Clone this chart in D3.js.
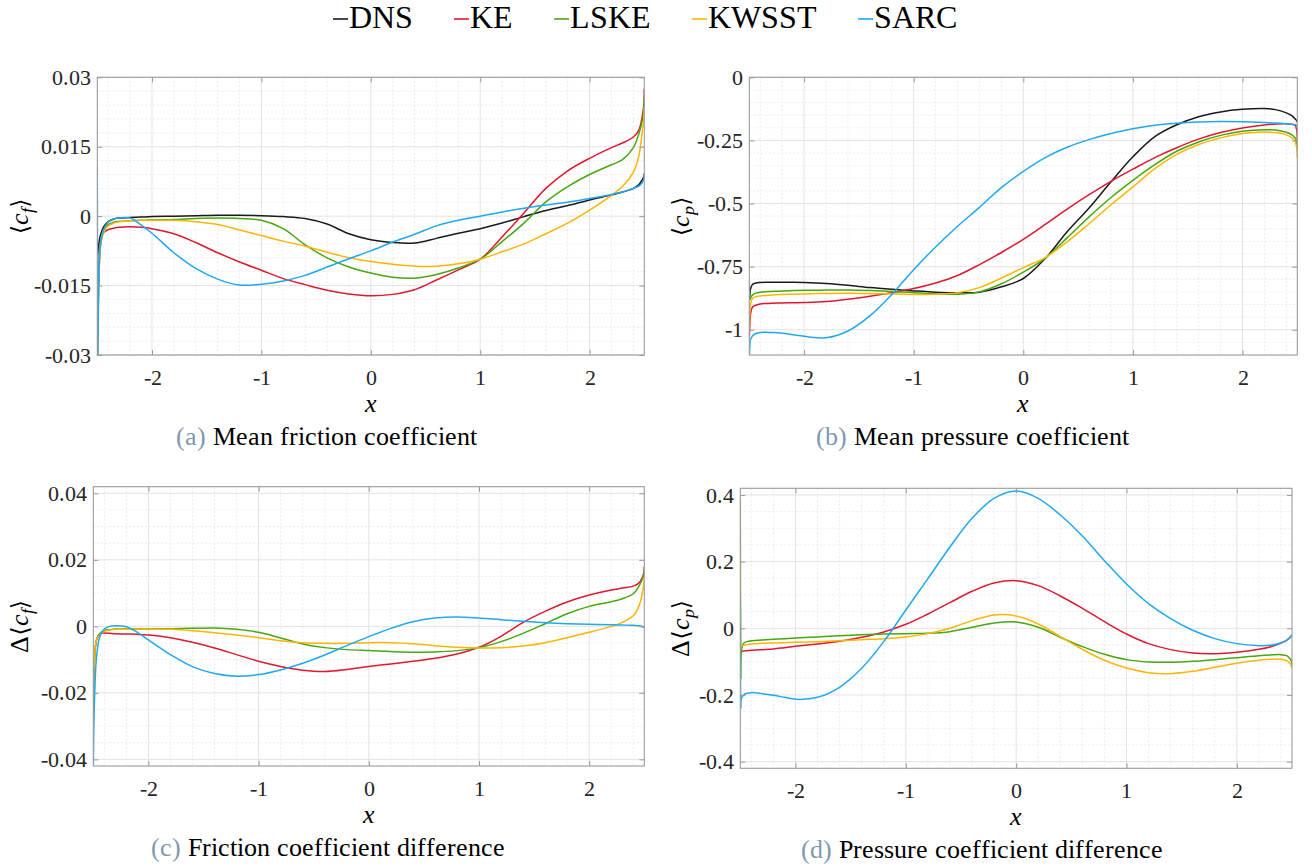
<!DOCTYPE html>
<html>
<head>
<meta charset="utf-8">
<script src="https://cdn.jsdelivr.net/npm/d3@7"></script>
<style>
  @font-face {
    font-family: "FigSerif";
    font-style: normal;
    font-weight: 400;
    src: local("Liberation Serif"), local("LiberationSerif"), local("LiberationSerif-Regular"),
         local("DejaVu Serif"), local("DejaVuSerif"), local("Noto Serif"), local("NotoSerif-Regular");
  }
  @font-face {
    font-family: "FigSerif";
    font-style: italic;
    font-weight: 400;
    src: local("Liberation Serif Italic"), local("LiberationSerif-Italic"),
         local("DejaVu Serif Italic"), local("DejaVuSerif-Italic"), local("Noto Serif Italic"), local("NotoSerif-Italic");
  }
  html, body { margin: 0; padding: 0; background: #fff; }
  svg { display: block; }
</style>
</head>
<body>
<svg id="fig" width="1312" height="867"></svg>
<script>
// Shared abscissa of all sampled profiles
const xs = [-2.5, -2.495, -2.49, -2.47, -2.44, -2.4, -2.35, -2.3, -2.2, -2.1, -2.0,
  -1.8, -1.6, -1.4, -1.2, -1.0, -0.8, -0.6, -0.4, -0.2, 0, 0.2, 0.4, 0.6, 0.8, 1.0,
  1.2, 1.4, 1.6, 1.8, 2.0, 2.2, 2.3, 2.4, 2.45, 2.48, 2.495, 2.5];

// (a) mean friction coefficient <c_f>
const cfDNS = [-0.0085, -0.0078, -0.0065, -0.004, -0.0022, -0.0012, -0.0006, -0.0004, -0.0003, -0.0002, -0.0001,
  0.0, 0.0001, 0.0002, 0.0002, 0.0001, -0.0001, -0.0005, -0.0017, -0.0038, -0.0051, -0.0057, -0.0058, -0.0048, -0.0037, -0.0027,
  -0.0015, -0.0001, 0.0012, 0.0023, 0.0035, 0.0046, 0.0052, 0.006, 0.0068, 0.0078, 0.0085, 0.0092];
const cfKE = [-0.031, -0.022, -0.015, -0.0055, -0.0035, -0.0029, -0.0026, -0.0024, -0.0023, -0.0024, -0.0027,
  -0.0038, -0.0057, -0.0079, -0.0099, -0.0117, -0.0135, -0.0148, -0.016, -0.0168, -0.0172, -0.0169, -0.0159, -0.0138, -0.0116, -0.0093,
  -0.0045, 0.0007, 0.006, 0.0098, 0.0125, 0.0148, 0.0158, 0.0171, 0.0186, 0.0214, 0.024, 0.0275];
const cfLSKE = [-0.031, -0.025, -0.018, -0.006, -0.0028, -0.0018, -0.0013, -0.0011, -0.001, -0.0009, -0.0008,
  -0.0007, -0.0005, -0.0004, -0.0005, -0.0009, -0.0027, -0.0062, -0.009, -0.011, -0.0123, -0.0132, -0.0134, -0.0126, -0.0112, -0.0093,
  -0.0055, -0.0015, 0.0031, 0.0064, 0.009, 0.0111, 0.0122, 0.0148, 0.0178, 0.0205, 0.023, 0.0258];
const cfKWSST = [-0.031, -0.025, -0.018, -0.0065, -0.0034, -0.0021, -0.0015, -0.0012, -0.001, -0.0009, -0.0009,
  -0.0009, -0.0012, -0.0018, -0.003, -0.0042, -0.0054, -0.0065, -0.0078, -0.009, -0.0098, -0.0104, -0.0108, -0.0108, -0.0103, -0.0093,
  -0.0077, -0.006, -0.0038, -0.0015, 0.0013, 0.0045, 0.0064, 0.0095, 0.013, 0.018, 0.021, 0.0236];
const cfSARC = [0.0105, -0.031, -0.02, -0.006, -0.0028, -0.0012, -0.0006, -0.0004, -0.0004, -0.0019, -0.0037,
  -0.0079, -0.0113, -0.0136, -0.0149, -0.0147, -0.014, -0.0128, -0.011, -0.0092, -0.0075, -0.0056, -0.0039, -0.0021, -0.0009, 0.0,
  0.0009, 0.0017, 0.0024, 0.003, 0.0038, 0.0047, 0.0052, 0.006, 0.0065, 0.0072, 0.008, 0.0092];

// (b) mean pressure coefficient <c_p>
const cpDNS = [-0.88, -0.86, -0.84, -0.82, -0.815, -0.813, -0.812, -0.812, -0.812, -0.812, -0.813,
  -0.817, -0.824, -0.833, -0.84, -0.846, -0.851, -0.853, -0.851, -0.83, -0.797, -0.718, -0.612, -0.518, -0.414, -0.315,
  -0.235, -0.188, -0.156, -0.137, -0.127, -0.124, -0.128, -0.141, -0.152, -0.165, -0.172, -0.178];
const cpKE = [-1.03, -0.98, -0.94, -0.91, -0.903, -0.898, -0.896, -0.895, -0.894, -0.893, -0.892,
  -0.888, -0.879, -0.867, -0.853, -0.837, -0.815, -0.785, -0.742, -0.694, -0.642, -0.583, -0.522, -0.465, -0.412, -0.364,
  -0.318, -0.279, -0.245, -0.219, -0.201, -0.189, -0.185, -0.184, -0.186, -0.19, -0.21, -0.247];
const cpLSKE = [-0.806, -0.88, -0.875, -0.862, -0.855, -0.851, -0.849, -0.848, -0.846, -0.845, -0.844,
  -0.843, -0.843, -0.845, -0.848, -0.853, -0.857, -0.859, -0.85, -0.818, -0.772, -0.716, -0.636, -0.553, -0.476, -0.408,
  -0.346, -0.293, -0.256, -0.23, -0.214, -0.208, -0.209, -0.218, -0.228, -0.24, -0.26, -0.29];
const cpKWSST = [-1.0, -0.93, -0.9, -0.875, -0.869, -0.866, -0.864, -0.862, -0.86, -0.859, -0.858,
  -0.856, -0.855, -0.856, -0.858, -0.86, -0.859, -0.853, -0.833, -0.795, -0.754, -0.714, -0.652, -0.58, -0.505, -0.434,
  -0.362, -0.305, -0.266, -0.24, -0.223, -0.217, -0.219, -0.228, -0.24, -0.255, -0.28, -0.32];
const cpSARC = [-1.12, -1.06, -1.04, -1.024, -1.015, -1.011, -1.01, -1.011, -1.014, -1.02, -1.026,
  -1.032, -1.005, -0.945, -0.86, -0.762, -0.672, -0.59, -0.515, -0.437, -0.373, -0.318, -0.277, -0.247, -0.223, -0.204,
  -0.19, -0.182, -0.177, -0.175, -0.176, -0.179, -0.181, -0.184, -0.186, -0.188, -0.19, -0.195];

// (c) friction coefficient difference to DNS
const dcfKE = [-0.015, -0.012, -0.009, -0.004, -0.0022, -0.002, -0.0021, -0.0022, -0.0023, -0.0024, -0.0026,
  -0.0034, -0.0048, -0.0065, -0.0085, -0.0105, -0.0121, -0.0132, -0.0136, -0.013, -0.0121, -0.0113, -0.0105, -0.0096, -0.0083, -0.0063,
  -0.003, 0.0012, 0.0045, 0.0073, 0.0094, 0.0109, 0.0115, 0.0121, 0.013, 0.0145, 0.016, 0.018];
const dcfLSKE = [-0.029, -0.02, -0.012, -0.004, -0.0022, -0.0013, -0.001, -0.0008, -0.0007, -0.0007, -0.0007,
  -0.0007, -0.0006, -0.0005, -0.0009, -0.0018, -0.0035, -0.0053, -0.0064, -0.007, -0.0073, -0.0076, -0.0078, -0.0077, -0.0073, -0.0064,
  -0.0046, -0.0021, 0.0008, 0.0038, 0.006, 0.0074, 0.0083, 0.0098, 0.012, 0.014, 0.0155, 0.0165];
const dcfKWSST = [-0.02, -0.015, -0.01, -0.004, -0.0025, -0.0015, -0.0011, -0.0009, -0.0008, -0.0008, -0.0008,
  -0.0009, -0.0013, -0.0019, -0.0026, -0.0034, -0.0043, -0.0049, -0.0051, -0.0051, -0.0049, -0.0049, -0.0052, -0.0058, -0.0063, -0.0065,
  -0.0064, -0.0059, -0.0049, -0.0034, -0.0018, 0.0, 0.0012, 0.0032, 0.006, 0.0095, 0.0125, 0.015];
const dcfSARC = [-0.0425, -0.03, -0.023, -0.009, -0.003, -0.0008, 0.0, 0.0002, -0.0001, -0.0018, -0.0041,
  -0.0085, -0.0121, -0.0142, -0.015, -0.0145, -0.0131, -0.0111, -0.0086, -0.0058, -0.0031, -0.0006, 0.0014, 0.0025, 0.0028, 0.0025,
  0.002, 0.0015, 0.0011, 0.0008, 0.0006, 0.0005, 0.0004, 0.0003, 0.0002, 0.0, -0.0003, -0.0006];

// (d) pressure coefficient difference to DNS
const dcpKE = [-0.08, -0.072, -0.07, -0.068, -0.067, -0.066, -0.065, -0.064, -0.062, -0.058, -0.054,
  -0.047, -0.039, -0.027, -0.011, 0.012, 0.043, 0.077, 0.111, 0.136, 0.143, 0.128, 0.097, 0.06, 0.02, -0.017,
  -0.046, -0.064, -0.074, -0.076, -0.072, -0.063, -0.056, -0.044, -0.036, -0.028, -0.022, -0.019];
const dcpLSKE = [0.39, -0.15, -0.07, -0.045, -0.04, -0.037, -0.036, -0.035, -0.033, -0.031, -0.029,
  -0.026, -0.022, -0.019, -0.017, -0.016, -0.015, -0.01, 0.003, 0.016, 0.019, 0.003, -0.027, -0.055, -0.078, -0.094,
  -0.101, -0.102, -0.099, -0.094, -0.088, -0.082, -0.08, -0.079, -0.082, -0.09, -0.1, -0.109];
const dcpKWSST = [0.23, -0.06, -0.055, -0.051, -0.049, -0.047, -0.046, -0.045, -0.044, -0.043, -0.042,
  -0.04, -0.037, -0.034, -0.031, -0.026, -0.016, 0.0, 0.023, 0.04, 0.037, 0.013, -0.025, -0.063, -0.096, -0.119,
  -0.133, -0.136, -0.129, -0.117, -0.105, -0.096, -0.093, -0.093, -0.097, -0.105, -0.113, -0.119];
const dcpSARC = [0.08, -0.24, -0.21, -0.2, -0.195, -0.193, -0.194, -0.196, -0.201, -0.207, -0.213,
  -0.207, -0.177, -0.12, -0.04, 0.055, 0.149, 0.244, 0.33, 0.39, 0.412, 0.39, 0.34, 0.277, 0.203, 0.133,
  0.074, 0.029, -0.006, -0.031, -0.046, -0.052, -0.051, -0.044, -0.036, -0.028, -0.022, -0.019];

// Legend entries and line colours
const modelNames = ["DNS", "KE", "LSKE", "KWSST", "SARC"];
const modelColors = ["#1a1a1a", "#e0182d", "#46a80e", "#ffb406", "#1fa8f2"];

// Tick values and labels
const xTicks = [-2, -1, 0, 1, 2];
const xTickLabels = ["-2", "-1", "0", "1", "2"];
const cfTicks = [-0.03, -0.015, 0, 0.015, 0.03];
const cfTickLabels = ["-0.03", "-0.015", "0", "0.015", "0.03"];
const cpTicks = [-1, -0.75, -0.5, -0.25, 0];
const cpTickLabels = ["-1", "-0.75", "-0.5", "-0.25", "0"];
const dcfTicks = [-0.04, -0.02, 0, 0.02, 0.04];
const dcfTickLabels = ["-0.04", "-0.02", "0", "0.02", "0.04"];
const dcpTicks = [-0.4, -0.2, 0, 0.2, 0.4];
const dcpTickLabels = ["-0.4", "-0.2", "0", "0.2", "0.4"];

const SERIF = "FigSerif, 'Liberation Serif', 'DejaVu Serif', 'Noto Serif', serif";
const svg = d3.select("#fig");

// Font size that gives a string a wanted rendered width in the serif face
function fitSize(str, width) {
  const t = svg.append("text").attr("font-family", SERIF).attr("font-size", 100).text(str);
  const w = t.node().getComputedTextLength();
  t.remove();
  return 100 * width / w;
}

function draw() {
  svg.selectAll("*").remove();
  const legendSize = Math.min(33, fitSize("DNSKELSKEKWSSTSARC", 383));
  const tickSize = Math.min(22, fitSize("0.015", 50));
  const capSize = Math.min(27, fitSize("(a) Mean friction coefficient", 297));
  const labelSize = capSize;

  // ---- legend ----
  const lg = svg.append("g");
  let lx = 333;
  modelNames.forEach((name, i) => {
    lg.append("line").attr("x1", lx).attr("x2", lx + 15).attr("y1", 19).attr("y2", 19)
      .attr("stroke", modelColors[i]).attr("stroke-width", 1.6);
    const t = lg.append("text").attr("x", lx + 16).attr("y", 28)
      .attr("font-family", SERIF).attr("font-size", legendSize).attr("fill", "#000").text(name);
    lx += 16 + t.node().getComputedTextLength() + 41;
  });

  // ---- panels ----
  const panels = [
    { key: "a", L: 97.3, R: 644.3, T: 77.3, B: 355, yDom: [-0.03, 0.03], yTicks: cfTicks, yLabels: cfTickLabels,
      yMinor: 0.003, ySym: ["", "f"], yLabX: 28, capX: 326, capLetter: "(a)", capText: " Mean friction coefficient",
      series: [cfDNS, cfKE, cfLSKE, cfKWSST, cfSARC], colorIdx: [0, 1, 2, 3, 4] },
    { key: "b", L: 749.3, R: 1297.3, T: 77.3, B: 355, yDom: [-1.1, 0], yTicks: cpTicks, yLabels: cpTickLabels,
      yMinor: 0.05, ySym: ["", "p"], yLabX: 689, capX: 972, capLetter: "(b)", capText: " Mean pressure coefficient",
      series: [cpDNS, cpKE, cpLSKE, cpKWSST, cpSARC], colorIdx: [0, 1, 2, 3, 4] },
    { key: "c", L: 93.3, R: 644.3, T: 486.7, B: 766, yDom: [-0.042, 0.042], yTicks: dcfTicks, yLabels: dcfTickLabels,
      yMinor: 0.005, ySym: ["Δ", "f"], yLabX: 28, capX: 328, capLetter: "(c)", capText: " Friction coefficient difference",
      series: [dcfKE, dcfLSKE, dcfKWSST, dcfSARC], colorIdx: [1, 2, 3, 4] },
    { key: "d", L: 740.3, R: 1292, T: 488.3, B: 768.3, yDom: [-0.42, 0.42], yTicks: dcpTicks, yLabels: dcpTickLabels,
      yMinor: 0.05, ySym: ["Δ", "p"], yLabX: 689, capX: 982, capLetter: "(d)", capText: " Pressure coefficient difference",
      series: [dcpKE, dcpLSKE, dcpKWSST, dcpSARC], colorIdx: [1, 2, 3, 4] }
  ];

  panels.forEach(p => {
    const g = svg.append("g");
    const x = d3.scaleLinear().domain([-2.5, 2.5]).range([p.L, p.R]);
    const y = d3.scaleLinear().domain(p.yDom).range([p.B, p.T]);

    // minor grid (dotted)
    const xMinor = d3.range(-2.4, 2.5, 0.2).filter(v => Math.abs(v - Math.round(v)) > 1e-6);
    const yMinorVals = d3.range(Math.ceil(p.yDom[0] / p.yMinor) * p.yMinor, p.yDom[1] + 1e-9, p.yMinor)
      .filter(v => !p.yTicks.some(t => Math.abs(t - v) < p.yMinor * 0.1));
    g.append("g").selectAll("line").data(xMinor).join("line")
      .attr("x1", d => x(d)).attr("x2", d => x(d)).attr("y1", p.T).attr("y2", p.B)
      .attr("stroke", "#ebebeb").attr("stroke-width", 1).attr("stroke-dasharray", "2,2");
    g.append("g").selectAll("line").data(yMinorVals).join("line")
      .attr("x1", p.L).attr("x2", p.R).attr("y1", d => y(d)).attr("y2", d => y(d))
      .attr("stroke", "#ebebeb").attr("stroke-width", 1).attr("stroke-dasharray", "2,2");
    // major grid
    g.append("g").selectAll("line").data(xTicks).join("line")
      .attr("x1", d => x(d)).attr("x2", d => x(d)).attr("y1", p.T).attr("y2", p.B)
      .attr("stroke", "#e3e3e3").attr("stroke-width", 1);
    g.append("g").selectAll("line").data(p.yTicks).join("line")
      .attr("x1", p.L).attr("x2", p.R).attr("y1", d => y(d)).attr("y2", d => y(d))
      .attr("stroke", "#e3e3e3").attr("stroke-width", 1);

    // curves
    const clipId = "clip-" + p.key;
    svg.append("defs").append("clipPath").attr("id", clipId)
      .append("rect").attr("x", p.L).attr("y", p.T).attr("width", p.R - p.L).attr("height", p.B - p.T);
    const line = d3.line().x(d => x(d[0])).y(d => y(d[1])).curve(d3.curveCatmullRom.alpha(0.5));
    const cg = g.append("g").attr("clip-path", `url(#${clipId})`);
    p.series.forEach((vals, i) => {
      cg.append("path").datum(d3.zip(xs, vals)).attr("d", line)
        .attr("fill", "none").attr("stroke", modelColors[p.colorIdx[i]]).attr("stroke-width", 1.5)
        .attr("stroke-linejoin", "round");
    });

    // axes (inward ticks on all four sides)
    const axisStyle = sel => {
      sel.select(".domain").remove();
      sel.selectAll(".tick line").attr("stroke", "#9a9a9a");
      sel.selectAll(".tick text").attr("font-family", SERIF).attr("font-size", tickSize).attr("fill", "#262626");
    };
    g.append("g").attr("transform", `translate(0,${p.B})`)
      .call(d3.axisBottom(x).tickValues(xTicks).tickFormat((d, i) => xTickLabels[i]).tickSize(-5).tickPadding(14))
      .call(axisStyle);
    g.append("g").attr("transform", `translate(0,${p.T})`)
      .call(d3.axisTop(x).tickValues(xTicks).tickFormat("").tickSize(-5)).call(axisStyle);
    g.append("g").attr("transform", `translate(${p.L},0)`)
      .call(d3.axisLeft(y).tickValues(p.yTicks).tickFormat((d, i) => p.yLabels[i]).tickSize(-5).tickPadding(6))
      .call(axisStyle);
    g.append("g").attr("transform", `translate(${p.R},0)`)
      .call(d3.axisRight(y).tickValues(p.yTicks).tickFormat("").tickSize(-5)).call(axisStyle);

    // box
    g.append("rect").attr("x", p.L).attr("y", p.T).attr("width", p.R - p.L).attr("height", p.B - p.T)
      .attr("fill", "none").attr("stroke", "#9a9a9a").attr("stroke-width", 1.1);

    // x label
    g.append("text").attr("x", x(0)).attr("y", p.B + 57).attr("text-anchor", "middle")
      .attr("font-family", SERIF).attr("font-style", "italic").attr("font-size", labelSize).text("x");

    // y label, e.g. <c_f> or Δ<c_p>
    const yl = g.append("text")
      .attr("transform", `translate(${p.yLabX},${(p.T + p.B) / 2}) rotate(-90)`)
      .attr("text-anchor", "middle").attr("font-family", SERIF).attr("font-size", labelSize).attr("fill", "#000");
    if (p.ySym[0]) yl.append("tspan").text(p.ySym[0]);
    yl.append("tspan").attr("font-family", "'DejaVu Serif', 'DejaVu Sans', serif").attr("font-size", labelSize * 0.9).text("⟨");
    yl.append("tspan").attr("font-style", "italic").text("c");
    yl.append("tspan").attr("font-style", "italic").attr("font-size", labelSize * 0.7).attr("dy", 5).text(p.ySym[1]);
    yl.append("tspan").attr("font-family", "'DejaVu Serif', 'DejaVu Sans', serif").attr("font-size", labelSize * 0.9).attr("dy", -5).text("⟩");

    // caption
    const cap = svg.append("text").attr("x", p.capX).attr("y", p.B + 90).attr("text-anchor", "middle")
      .attr("font-family", SERIF).attr("font-size", capSize);
    cap.append("tspan").attr("fill", "#7f98b2").text(p.capLetter);
    cap.append("tspan").attr("fill", "#000").text(p.capText);
  });
}

draw();
if (document.fonts && document.fonts.load) {
  Promise.all([document.fonts.load("20px FigSerif"), document.fonts.load("italic 20px FigSerif")])
    .then(draw).catch(() => {});
}
</script>
</body>
</html>
